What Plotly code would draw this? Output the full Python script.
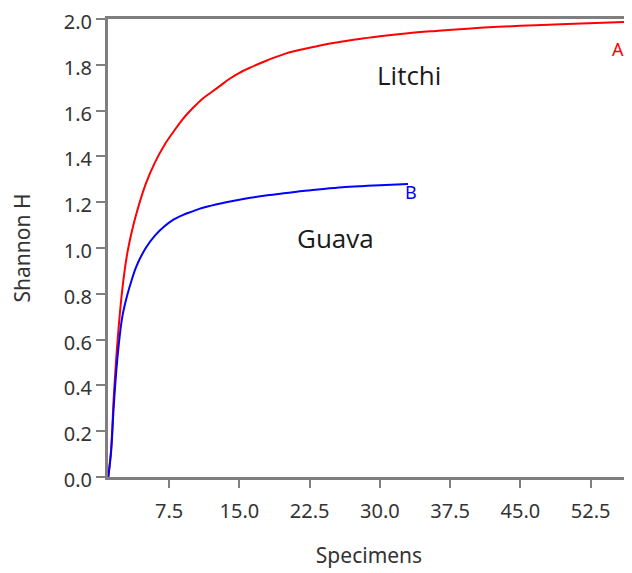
import plotly.graph_objects as go

# Rarefaction curves (Shannon H vs specimens)
litchi_n = [1, 1.3, 1.6, 2, 2.5, 3, 3.5, 4, 5, 6, 7, 8, 9, 10, 11, 12, 13, 14, 15, 16, 18, 20, 22, 24, 26, 28, 30, 33, 36, 40, 45, 50, 57]
litchi_h = [0.0, 0.12, 0.36, 0.60, 0.82, 0.97, 1.07, 1.15, 1.28, 1.375, 1.45, 1.51, 1.565, 1.61, 1.65, 1.68, 1.71, 1.74, 1.765, 1.785, 1.82, 1.85, 1.87, 1.888, 1.902, 1.914, 1.925, 1.938, 1.948, 1.96, 1.97, 1.978, 1.988]

guava_n = [1, 1.3, 1.6, 2, 2.5, 3, 3.5, 4, 5, 6, 7, 8, 9, 10, 11, 12, 14, 16, 18, 20, 22, 24, 26, 28, 30, 33]
guava_h = [0.0, 0.11, 0.32, 0.53, 0.70, 0.79, 0.86, 0.92, 1.00, 1.055, 1.095, 1.125, 1.145, 1.16, 1.175, 1.185, 1.203, 1.218, 1.23, 1.24, 1.25, 1.258, 1.265, 1.27, 1.274, 1.28]

x_ticks = [7.5, 15.0, 22.5, 30.0, 37.5, 45.0, 52.5]
y_ticks = [0.0, 0.2, 0.4, 0.6, 0.8, 1.0, 1.2, 1.4, 1.6, 1.8, 2.0]

FONT = "Noto Sans"
AX = "#7f7f7f"
TXT = "#333333"

fig = go.Figure()
fig.add_trace(go.Scatter(x=litchi_n, y=litchi_h, mode="lines", line=dict(color="#ff0000", width=2, shape="spline", smoothing=1.0),
                         showlegend=False, hoverinfo="skip"))
fig.add_trace(go.Scatter(x=guava_n, y=guava_h, mode="lines", line=dict(color="#0000ff", width=2, shape="spline", smoothing=1.0),
                         showlegend=False, hoverinfo="skip"))

fig.add_annotation(x=33.1, y=1.757, text="Litchi", showarrow=False, font=dict(family="Open Sans", size=26, color="#1a1a1a"))
fig.add_annotation(x=25.3, y=1.043, text="Guava", showarrow=False, font=dict(family="Open Sans", size=26, color="#1a1a1a"))
fig.add_annotation(x=55.4, y=1.87, text="A", showarrow=False, font=dict(family=FONT, size=18, color="#ff0000"))
fig.add_annotation(x=33.3, y=1.243, text="B", showarrow=False, font=dict(family=FONT, size=18, color="#0000ff"))

# thin right frame line
fig.add_shape(type="line", xref="paper", yref="paper", x0=1, x1=1, y0=0, y1=1, line=dict(color="#bfbfbf", width=1))

# page body has an 8px margin, so the figure is sized/margined to compensate
fig.update_layout(
    width=624, height=565,
    margin=dict(l=100, r=2, t=11, b=96),
    paper_bgcolor="white", plot_bgcolor="white",
    font=dict(family=FONT, size=20, color=TXT),
)
fig.update_xaxes(
    range=[0.97, 56.7], tickvals=x_ticks, ticktext=[f"{v:.1f}" for v in x_ticks],
    showgrid=False, zeroline=False, showline=True, linecolor=AX, linewidth=3, mirror=True,
    ticks="outside", ticklen=8, tickwidth=2, tickcolor=AX, automargin=False,
    ticklabeloverflow="allow", ticklabelstandoff=6,
    tickfont=dict(family=FONT, size=20, color=TXT),
    title=dict(text="Specimens", font=dict(family=FONT, size=21, color=TXT), standoff=26),
)
fig.update_yaxes(
    range=[0, 2.0], tickvals=y_ticks, ticktext=[f"{v:.1f}" for v in y_ticks],
    showgrid=False, zeroline=False, showline=True, linecolor=AX, linewidth=3,
    ticks="outside", ticklen=9, tickwidth=2, tickcolor=AX, automargin=False,
    ticklabeloverflow="allow", ticklabelshift=3,
    tickfont=dict(family=FONT, size=20, color=TXT),
    title=dict(text="Shannon H", font=dict(family=FONT, size=21, color=TXT), standoff=28),
)

fig.write_html("out.html")
